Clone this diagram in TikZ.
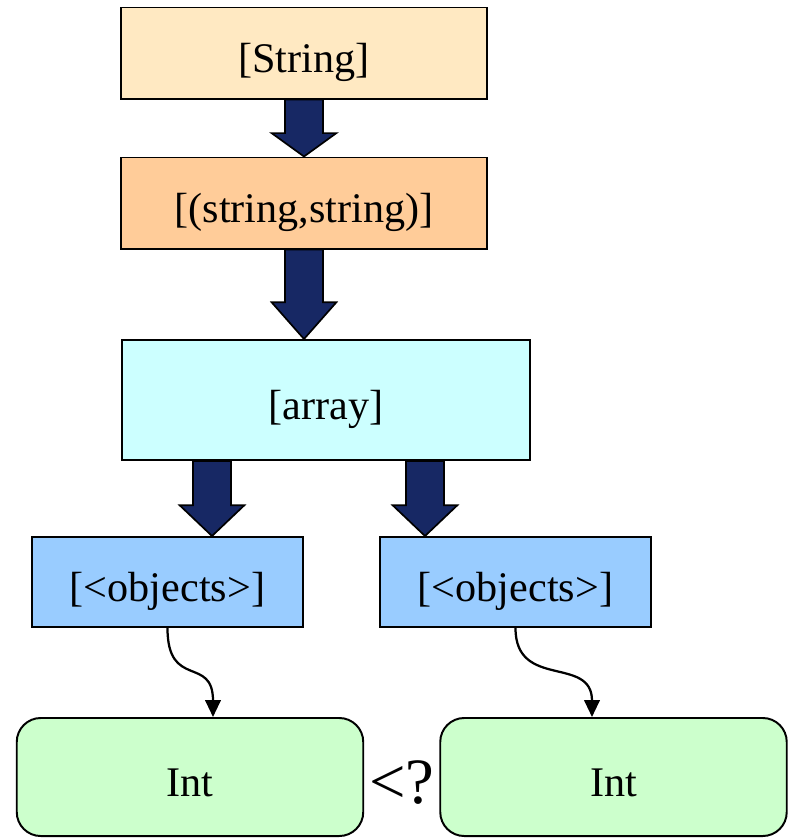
\documentclass[tikz,border=0pt]{standalone}
\usepackage{fontspec}
\setmainfont{Liberation Serif}
\usepackage{tikz}
\usetikzlibrary{arrows.meta, positioning, calc}
\definecolor{listorange}{RGB}{255,233,194}
\definecolor{pairorange}{RGB}{255,204,153}
\definecolor{arraycyan}{RGB}{204,255,255}
\definecolor{objblue}{RGB}{153,204,255}
\definecolor{intgreen}{RGB}{204,255,204}
\definecolor{fatnavy}{RGB}{23,40,100}
\tikzset{
  typebox/.style={
    rectangle, draw=black, line width=1.4pt, inner sep=0pt,
    text height=31pt, text depth=3pt,
    text centered, font=\fontsize{30}{36}\selectfont, text=black
  },
  listbox/.style={typebox, fill=listorange, minimum width=9.125cm, minimum height=2.275cm},
  pairbox/.style={typebox, fill=pairorange, minimum width=9.125cm, minimum height=2.275cm},
  arraybox/.style={typebox, fill=arraycyan, minimum width=10.2cm, minimum height=3cm},
  objbox/.style={typebox, fill=objblue, minimum width=6.775cm, minimum height=2.25cm},
  intbox/.style={typebox, rounded corners=0.6cm, fill=intgreen, minimum width=8.66cm, minimum height=2.95cm},
  fatarrow/.style={draw=black, line width=1.2pt, fill=fatnavy, line join=miter},
  bendarrow/.style={-{Triangle[length=12pt, width=11pt]}, line width=1.6pt, draw=black}
}
% block arrow: from node, to node, x position of the shaft
\newcommand{\blockarrow}[3]{%
  \filldraw[fatarrow] let \p1=(#1), \p2=(#2), \p3=(#3,0), \n1={0.41*(\y1-\y2)} in
    (\x3-13.5pt,\y1) -- (\x3+13.5pt,\y1) -- (\x3+13.5pt,\y2+\n1) -- (\x3+23pt,\y2+\n1)
    -- (\x3,\y2) -- (\x3-23pt,\y2+\n1) -- (\x3-13.5pt,\y2+\n1) -- cycle;}

\begin{document}
\begin{tikzpicture}[x=0.025cm, y=-0.025cm]
    \useasboundingbox (0,0) rectangle (794,838);
    % type chain
    \node[listbox]  (str)  at (304,53)    {[String]};
    \node[pairbox]  (pair) at (304,203)   {[(string,string)]};
    \node[arraybox] (arr)  at (326,400)   {[array]};
    \node[objbox]   (objL) at (167.5,582) {[<objects>]};
    \node[objbox]   (objR) at (515.5,582) {[<objects>]};
    \node[intbox]   (intL) at (190,777)   {Int};
    \node[intbox]   (intR) at (613.5,777) {Int};
    \node[font=\fontsize{46}{50}\selectfont, inner sep=0pt] (cmp) at (402,783) {<?};

    \blockarrow{str.south}{pair.north}{304}
    \blockarrow{pair.south}{arr.north}{304}
    \blockarrow{arr.south}{objL.north}{212}
    \blockarrow{arr.south}{objR.north}{425}

    \draw[bendarrow] (objL.south) .. controls +(0,62) and +(0,-62) .. ($(intL.north)+(23,0)$);
    \draw[bendarrow] (objR.south) .. controls +(0,62) and +(0,-62) .. ($(intR.north)+(-21.5,0)$);
  \end{tikzpicture}
\end{document}
